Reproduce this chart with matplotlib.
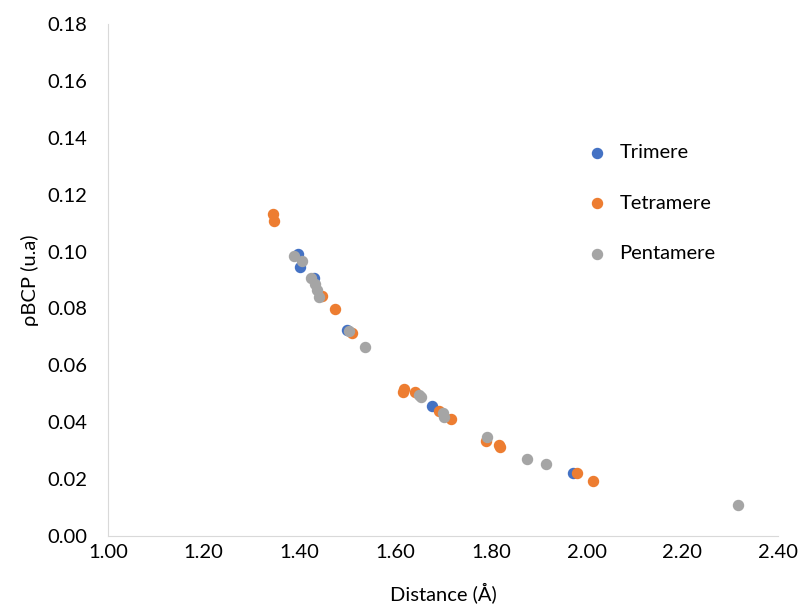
import matplotlib.pyplot as plt

# Distances (Å) and rho at BCP (u.a)
trimere_x = [1.397, 1.401, 1.430, 1.499, 1.677, 1.972]
trimere_y = [0.0990, 0.0946, 0.0907, 0.0724, 0.0457, 0.0222]

tetramere_x = [1.345, 1.347, 1.447, 1.474, 1.510, 1.618, 1.616, 1.641,
               1.692, 1.717, 1.790, 1.817, 1.820, 1.980, 2.013]
tetramere_y = [0.1132, 0.1108, 0.0844, 0.0798, 0.0714, 0.0517, 0.0506, 0.0506,
               0.0440, 0.0411, 0.0334, 0.0320, 0.0314, 0.0222, 0.0193]

pentamere_x = [1.389, 1.405, 1.424, 1.433, 1.437, 1.441, 1.504, 1.537,
               1.650, 1.654, 1.700, 1.702, 1.792, 1.876, 1.915, 2.316]
pentamere_y = [0.0985, 0.0967, 0.0907, 0.0886, 0.0865, 0.0840, 0.0721, 0.0665,
               0.0496, 0.0490, 0.0432, 0.0418, 0.0348, 0.0271, 0.0253, 0.0109]

plt.rcParams['font.family'] = ['Lato', 'DejaVu Sans']

fig = plt.figure(figsize=(8.1, 6.06), dpi=100)
ax = fig.add_axes([108 / 810, 1 - 536 / 606, 670 / 810, 512 / 606])

ax.scatter(trimere_x, trimere_y, s=52, color='#4472C4', label='Trimere', zorder=3)
ax.scatter(tetramere_x, tetramere_y, s=52, color='#ED7D31', label='Tetramere', zorder=3)
ax.scatter(pentamere_x, pentamere_y, s=52, color='#A5A5A5', label='Pentamere', zorder=3)

ax.set_xlim(1.0, 2.4)
ax.set_ylim(0, 0.18)
ax.set_xticks([1.0 + 0.2 * i for i in range(8)])
ax.set_yticks([0.02 * i for i in range(10)])
ax.xaxis.set_major_formatter(plt.FormatStrFormatter('%.2f'))
ax.yaxis.set_major_formatter(plt.FormatStrFormatter('%.2f'))
ax.tick_params(length=0, labelsize=14.5, colors='#000000')
ax.tick_params(axis='x', pad=6)
ax.tick_params(axis='y', pad=15)

for side in ['top', 'right']:
    ax.spines[side].set_visible(False)
for side in ['left', 'bottom']:
    ax.spines[side].set_color('#D9D9D9')

ax.set_xlabel('Distance (Å)', fontsize=14.5, labelpad=15)
ax.set_ylabel('ρBCP (u.a)', fontsize=14.5, labelpad=6)

ax.legend(loc='upper left', bbox_to_anchor=(559 / 810, 1 - 126 / 606),
          bbox_transform=fig.transFigure, frameon=False, fontsize=14.5,
          handletextpad=0.1, labelspacing=1.65, scatterpoints=1)

plt.savefig('out.png')
